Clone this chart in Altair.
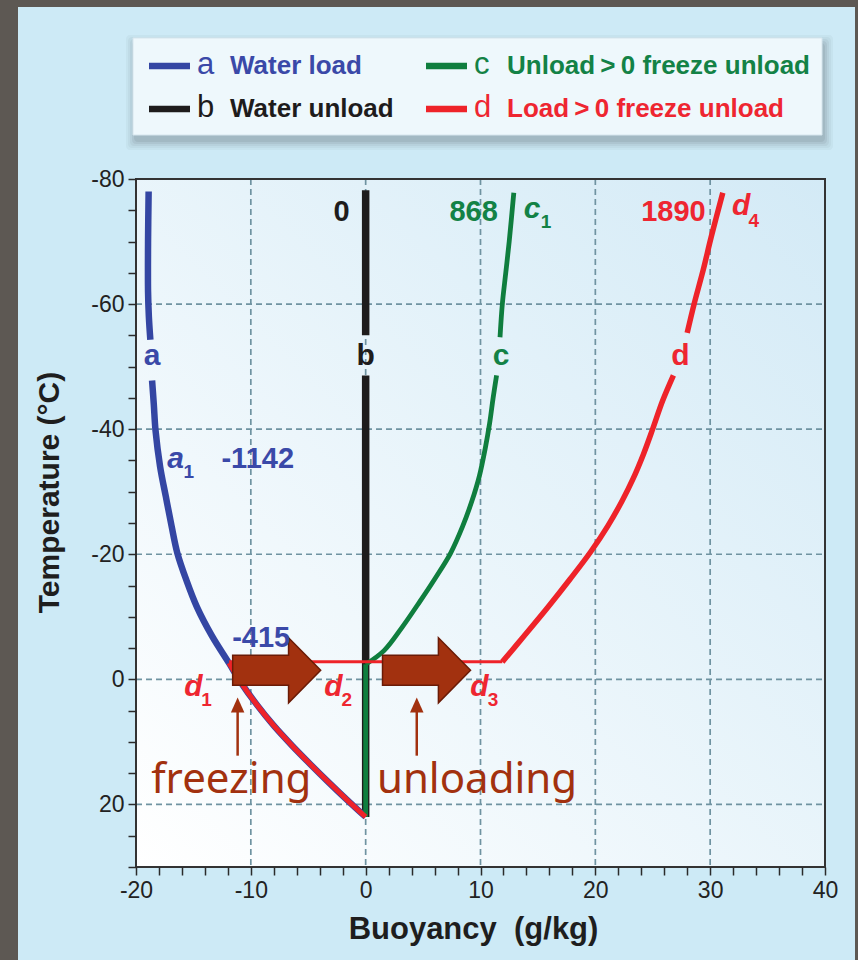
import altair as alt
import pandas as pd

# ---------------------------------------------------------------
# Parcel paths: buoyancy (g/kg) against temperature (°C).
# Each path is split where its letter label interrupts the line.
# ---------------------------------------------------------------
a_top_x = [-18.9, -18.95, -18.95, -18.88, -18.75]
a_top_t = [-78.0, -70.0, -62.0, -58.0, -54.3]
a_low_x = [-18.6, -18.45, -18.3, -17.9, -17.4, -16.9, -16.4, -15.6, -14.7,
           -13.4, -11.9, -10.9, -9.5, -8.0, -6.4, -4.8, -3.2, -1.6, 0.0]
a_low_t = [-47.8, -44.0, -39.8, -34.0, -29.2, -24.5, -20.2, -15.8, -11.6,
           -7.0, -2.6, 0.4, 4.0, 7.4, 10.6, 13.6, 16.5, 19.3, 22.0]

b_top_x = [0.0, 0.0]
b_top_t = [-78.2, -55.0]
b_low_x = [0.0, 0.0]
b_low_t = [-48.6, 22.0]

c_top_x = [11.7, 11.9, 12.2, 12.5, 12.9]
c_top_t = [-54.7, -60.0, -65.0, -70.0, -77.8]
c_stem_x = [0.0, 0.0]
c_stem_t = [22.0, -2.4]
c_low_x = [0.0, 1.6, 3.2, 4.7, 6.1, 7.4, 8.45, 9.25, 9.9, 10.42, 10.8, 11.1, 11.4]
c_low_t = [-2.4, -4.6, -8.4, -12.4, -16.3, -20.2, -24.5, -28.5, -32.5,
           -37.0, -41.0, -45.0, -48.6]

d_freeze_x = [0.0, -1.6, -3.2, -4.8, -6.4, -8.0, -9.5, -10.9, -11.9]
d_freeze_t = [22.0, 19.3, 16.5, 13.6, 10.6, 7.4, 4.0, 0.4, -2.6]
d_flat_x = [-11.9, 11.9]
d_flat_t = [-2.8, -2.8]
d_rise_x = [11.9, 13.83, 15.9, 17.79, 19.6, 21.08, 22.35, 23.27, 24.19, 24.99, 25.85, 26.8]
d_rise_t = [-2.8, -7.0, -11.6, -16.0, -20.4, -24.5, -28.6, -32.0, -36.0, -40.0, -44.5, -48.6]
d_top_x = [28.0, 28.6, 29.4, 30.1, 31.1]
d_top_t = [-55.4, -60.0, -65.5, -70.8, -77.8]

# Curve letters placed in the gaps of each path
curve_letters = ["a", "b", "c", "d"]
curve_letter_x = [-18.6, 0.0, 11.8, 27.4]
curve_letter_t = [-50.2, -50.2, -50.2, -50.2]

# Values written beside the paths
value_text = ["0", "868", "1890", "-1142", "-415"]
value_x = [-2.1, 9.4, 26.8, -9.4, -9.1]
value_t = [-73.3, -73.3, -73.3, -33.8, -5.1]
value_series = ["b", "c", "d", "a", "a"]

# Point names (italic letter + subscript digit)
point_letter = ["a", "c", "d", "d", "d", "d"]
point_sub = ["1", "1", "4", "1", "2", "3"]
point_x = [-16.55, 14.5, 32.7, -15.0, -2.8, 9.9]
point_t = [-33.8, -73.8, -74.2, 2.6, 2.6, 2.6]
point_sub_x = [-15.4, 15.7, 33.8, -13.85, -1.65, 11.1]
point_sub_t = [-32.2, -72.2, -72.4, 4.2, 4.2, 4.2]
point_series = ["a", "c", "d", "d", "d", "d"]

# Process arrows and their captions
block_arrow_x = [-7.75, 5.3]
block_arrow_t = [-1.45, -1.45]
pointer_x = [-11.15, 4.45]
pointer_tail_t = [12.2, 12.2]
pointer_head_t = [4.1, 4.1]
caption_text = ["freezing", "unloading"]
caption_x = [-11.7, 9.7]
caption_t = [18.1, 18.1]

# Legend entries
legend_keys = ["a", "b", "c", "d"]
legend_labels = ["Water load", "Water unload",
                 "Unload\u2009>\u20090 freeze unload", "Load\u2009>\u20090 freeze unload"]

# Axis ticks and grid
x_ticks = list(range(-20, 41, 2))
y_ticks = list(range(-80, 31, 5))
x_grid = [-10, 0, 10, 20, 30]
y_grid = [-60, -40, -20, 0, 20]

# ---------------------------------------------------------------
COLORS = {"a": "#3446a3", "b": "#1e1c1c", "c": "#0f7e3e", "d": "#ee2329"}
TEXT_COLORS = {"a": "#3a49a8", "b": "#1e1c1c", "c": "#138246", "d": "#ee2631"}
BROWN = "#a2310f"
GRID = "#6f93a1"
FONT = "Liberation Sans"

W, H = 689, 688
xscale = alt.Scale(domain=[-20, 40], nice=False, zero=False)
yscale = alt.Scale(domain=[30, -80], nice=False, zero=False)

xaxis = alt.Axis(
    values=x_ticks,
    labelExpr="datum.value % 10 == 0 ? '' + datum.value : ''",
    grid=False, domain=False, tickColor="#2b2b2b", tickWidth=1.5, tickSize=8,
    labelFontSize=23, labelColor="#222222", labelPadding=4, labelFlush=False,
    labelOverlap=False, labelFont=FONT, zindex=1,
    title="Buoyancy \u00a0(g/kg)", titleFont=FONT, titleFontSize=31,
    titleFontWeight="bold", titleColor="#1e1e1e",
    titleX=337, titleY=62, titleAlign="center", titleBaseline="middle",
)
yaxis = alt.Axis(
    values=y_ticks,
    labelExpr="datum.value % 20 == 0 ? '' + datum.value : ''",
    grid=False, domain=False, tickColor="#2b2b2b", tickWidth=1.5, tickSize=8,
    labelFontSize=23, labelColor="#222222", labelPadding=4,
    labelOverlap=False, labelFont=FONT, zindex=1,
    title="Temperature (°C)", titleFont=FONT, titleFontSize=30,
    titleFontWeight="bold", titleColor="#1e1e1e", titleAngle=270,
    titleX=-87, titleY=313, titleAlign="center", titleBaseline="middle",
)


def X(field):
    return alt.X(field, type="quantitative", scale=xscale, axis=xaxis)


def Y(field):
    return alt.Y(field, type="quantitative", scale=yscale, axis=yaxis)


one = pd.DataFrame({"k": [0]})

# Light panel inside the dark frame (pixel layout around the plot)
panel = alt.Chart(one).mark_rect(color="#cdeaf6").encode(
    x=alt.value(-118), x2=alt.value(719), y=alt.value(-172), y2=alt.value(781))

# Plot area with a soft diagonal gradient
bg_df = pd.DataFrame({"x0": [-20], "x1": [40], "t0": [-80], "t1": [30]})
bg = alt.Chart(bg_df).mark_rect(
    color=alt.LinearGradient(
        gradient="linear",
        stops=[alt.GradientStop(color="#ffffff", offset=0),
               alt.GradientStop(color="#d3eaf6", offset=1)],
        x1=0, y1=1, x2=1, y2=0)
).encode(x=X("x0"), x2="x1", y=Y("t0"), y2="t1")

vgrid = alt.Chart(pd.DataFrame({"x": x_grid, "t0": -80, "t1": 30})).mark_rule(
    color=GRID, strokeWidth=1.7, strokeDash=[6, 4]).encode(x=X("x"), y=Y("t0"), y2="t1")
hgrid = alt.Chart(pd.DataFrame({"t": y_grid, "x0": -20, "x1": 40})).mark_rule(
    color=GRID, strokeWidth=1.7, strokeDash=[6, 4]).encode(y=Y("t"), x=X("x0"), x2="x1")


def path(xs, ts, color, width):
    df = pd.DataFrame({"x": xs, "t": ts, "o": list(range(len(xs)))})
    interp = "catmull-rom" if len(xs) > 2 else "linear"
    return alt.Chart(df).mark_line(
        color=color, strokeWidth=width, strokeCap="butt", strokeJoin="round",
        interpolate=interp
    ).encode(x=X("x"), y=Y("t"), order="o:Q")


curves = [
    path(b_top_x, b_top_t, COLORS["b"], 7.5),
    path(b_low_x, b_low_t, COLORS["b"], 7.5),
    path(a_top_x, a_top_t, COLORS["a"], 6.5),
    path(a_low_x, a_low_t, COLORS["a"], 6.5),
    path(c_top_x, c_top_t, COLORS["c"], 4.8),
    path(c_stem_x, c_stem_t, COLORS["c"], 4.8),
    path(c_low_x, c_low_t, COLORS["c"], 4.8),
    path(d_freeze_x, d_freeze_t, COLORS["d"], 5.0),
    path(d_flat_x, d_flat_t, COLORS["d"], 3.0),
    path(d_rise_x, d_rise_t, COLORS["d"], 5.5),
    path(d_top_x, d_top_t, COLORS["d"], 5.5),
]

# Block arrows: body plus head, drawn as one symbol
ARROW = "M -1 -0.34 L 0.27 -0.34 L 0.27 -0.74 L 1 0 L 0.27 0.74 L 0.27 0.34 L -1 0.34 Z"
blocks = alt.Chart(pd.DataFrame({"x": block_arrow_x, "t": block_arrow_t})).mark_point(
    shape=ARROW, size=88 * 88, filled=True, fill=BROWN, stroke="#6a1b06",
    strokeWidth=1.5, opacity=1
).encode(x=X("x"), y=Y("t"))

ptr_df = pd.DataFrame({"x": pointer_x, "t0": pointer_tail_t, "t1": pointer_head_t})
shafts = alt.Chart(ptr_df).mark_rule(color=BROWN, strokeWidth=2.5).encode(
    x=X("x"), y=Y("t0"), y2="t1")
TRI = "M 0 -1 L 0.9 1 L -0.9 1 Z"
heads = alt.Chart(ptr_df).mark_point(
    shape=TRI, size=225, filled=True, fill=BROWN, opacity=1, strokeWidth=0
).encode(x=X("x"), y=Y("t1"))

captions = alt.Chart(pd.DataFrame({"x": caption_x, "t": caption_t, "s": caption_text})).mark_text(
    font="Noto Sans", fontSize=42, color=BROWN, baseline="alphabetic", align="center"
).encode(x=X("x"), y=Y("t"), text="s:N")

# Curve letters
letters_df = pd.DataFrame({"x": curve_letter_x, "t": curve_letter_t, "s": curve_letters,
                           "c": [TEXT_COLORS[k] for k in curve_letters]})
letters = alt.Chart(letters_df).mark_text(
    font=FONT, fontSize=30, fontWeight="bold", baseline="alphabetic", align="center"
).encode(x=X("x"), y=Y("t"), text="s:N", color=alt.Color("c:N", scale=None))

values_df = pd.DataFrame({"x": value_x, "t": value_t, "s": value_text,
                          "c": [TEXT_COLORS[k] for k in value_series]})
values = alt.Chart(values_df).mark_text(
    font=FONT, fontSize=29, fontWeight="bold", baseline="alphabetic", align="center"
).encode(x=X("x"), y=Y("t"), text="s:N", color=alt.Color("c:N", scale=None))

pt_df = pd.DataFrame({"x": point_x, "t": point_t, "s": point_letter,
                      "sx": point_sub_x, "st": point_sub_t, "ss": point_sub,
                      "c": [TEXT_COLORS[k] for k in point_series]})
pt_letters = alt.Chart(pt_df).mark_text(
    font=FONT, fontSize=30, fontWeight="bold", fontStyle="italic",
    baseline="alphabetic", align="center"
).encode(x=X("x"), y=Y("t"), text="s:N", color=alt.Color("c:N", scale=None))
pt_subs = alt.Chart(pt_df).mark_text(
    font=FONT, fontSize=19, fontWeight="bold", baseline="alphabetic", align="center"
).encode(x=X("sx"), y=Y("st"), text="ss:N", color=alt.Color("c:N", scale=None))

frame = alt.Chart(bg_df).mark_rect(filled=False, stroke="#333333", strokeWidth=2).encode(
    x=X("x0"), x2="x1", y=Y("t0"), y2="t1")

# ---------------------------------------------------------------
# Legend box above the plot (pixel layout relative to the plot origin)
# ---------------------------------------------------------------
BOX = (-3, -141, 686, -44)
legend_layers = []
for grow, op in [(9, 0.05), (7, 0.06), (5, 0.08), (3, 0.10), (1, 0.12)]:
    legend_layers.append(alt.Chart(one).mark_rect(color="#56626b", opacity=op, cornerRadius=4).encode(
        x=alt.value(BOX[0] - grow + 2), x2=alt.value(BOX[2] + grow + 2),
        y=alt.value(BOX[1] - grow + 6), y2=alt.value(BOX[3] + grow + 6)))
legend_layers.append(alt.Chart(one).mark_rect(color="#eef8fc", stroke="#d6e6ee", strokeWidth=1).encode(
    x=alt.value(BOX[0]), x2=alt.value(BOX[2]), y=alt.value(BOX[1]), y2=alt.value(BOX[3])))

col_x = [13, 290]
row_base = [-105, -62]
for i, key in enumerate(legend_keys):
    col, row = i // 2, i % 2
    x0 = col_x[col]
    base = row_base[row]
    color = COLORS[key]
    tcolor = TEXT_COLORS[key]
    legend_layers.append(alt.Chart(one).mark_rule(color=color, strokeWidth=6.5).encode(
        x=alt.value(x0), x2=alt.value(x0 + 41), y=alt.value(base - 8)))
    legend_layers.append(alt.Chart(one).mark_text(
        text=key, font=FONT, fontSize=31, color=tcolor, align="left", baseline="alphabetic"
    ).encode(x=alt.value(x0 + 48), y=alt.value(base)))
    legend_layers.append(alt.Chart(one).mark_text(
        text=legend_labels[i], font=FONT, fontSize=26, fontWeight="bold", color=tcolor,
        align="left", baseline="alphabetic"
    ).encode(x=alt.value(x0 + 81), y=alt.value(base)))

chart = alt.layer(
    panel, bg, vgrid, hgrid, *curves, blocks, shafts, heads, captions,
    letters, values, pt_letters, pt_subs, frame, *legend_layers
).properties(
    width=W, height=H,
    background="#5d5853",
    padding={"left": 136, "top": 179, "right": 33, "bottom": 93},
    autosize=alt.AutoSizeParams(type="none"),
).configure_view(stroke=None)

chart.save("out.html", embed_options={"renderer": "svg", "actions": False})
